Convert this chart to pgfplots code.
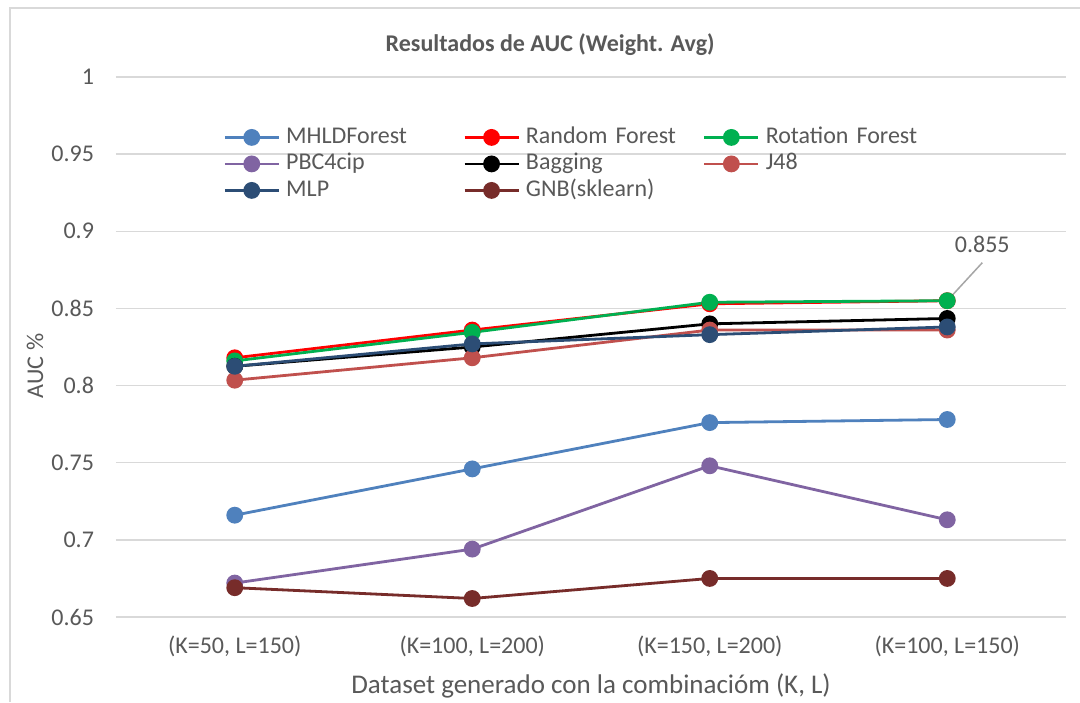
\documentclass[border=0pt]{standalone}
\usepackage{fontspec}
\setmainfont{Carlito}
\usepackage{pgfplots}
\pgfplotsset{compat=1.18}
\definecolor{gridgray}{HTML}{D9D9D9}
\definecolor{textgray}{HTML}{595959}
\definecolor{cMHLD}{HTML}{4F81BD}
\definecolor{cRF}{HTML}{FF0000}
\definecolor{cRot}{HTML}{00B050}
\definecolor{cPBC}{HTML}{8064A2}
\definecolor{cBag}{HTML}{000000}
\definecolor{cJ48}{HTML}{C0504D}
\definecolor{cMLP}{HTML}{2C4D75}
\definecolor{cGNB}{HTML}{772C2A}
\begin{document}
\begin{tikzpicture}
\useasboundingbox (-58pt,-42.5pt) rectangle (482pt,308.5pt);
\fill[white] (-58pt,-42.5pt) rectangle (482pt,308.5pt);
\draw[gridgray, line width=0.75pt] (-53pt,-42.5pt) -- (-53pt,304.5pt) -- (482pt,304.5pt);
\begin{axis}[
  at={(0,0)}, anchor=south west, scale only axis,
  width=475pt, height=270pt,
  xmin=-0.5, xmax=3.5, ymin=0.65, ymax=1,
  xtick={0,1,2,3},
  xticklabels={{(K=50, L=150)},{(K=100, L=200)},{(K=150, L=200)},{(K=100, L=150)}},
  ytick={0.65,0.7,0.75,0.8,0.85,0.9,0.95,1},
  yticklabels={0.65,0.7,0.75,0.8,0.85,0.9,0.95,1},
  ymajorgrids, grid style={gridgray, line width=0.75pt},
  axis line style={draw=none},
  major tick length=0pt,
  tick label style={text=textgray, font=\fontsize{12}{14}\selectfont},
  yticklabel style={xshift=-7.5pt},
  xticklabel style={yshift=-6pt},
  xlabel={Dataset generado con la combinacióm (K, L)},
  xlabel style={at={(0.5,0)}, anchor=center, yshift=-34.5pt, text=textgray, font=\fontsize{13.5}{16}\selectfont},
  ylabel={AUC \%},
  ylabel style={at={(axis description cs:-0.0853,0.465)}, anchor=center, text=textgray, font=\fontsize{12}{14}\selectfont},
  title={Resultados de AUC (Weight. Avg)},
  title style={at={(0.457,1)}, anchor=center, yshift=10pt, text=textgray, font=\bfseries\fontsize{12}{14}\selectfont},
  every axis plot/.append style={line width=1.4pt, mark=*, mark size=3.5pt, mark options={solid}},
  legend columns=3,
  legend image code/.code={\draw[#1] (0pt,0pt) -- (27pt,0pt); \draw[#1, mark repeat=1] plot coordinates {(13.5pt,0pt)};},
  legend style={at={(0.1126,0.9134)}, anchor=north west, draw=none, fill=none, inner sep=0pt,
    font=\fontsize{12}{14}\selectfont, text=textgray,
    /tikz/column sep=0pt,
    nodes={text width=85.5pt, align=left, inner xsep=3pt, inner ysep=0pt, text height=9.5pt, text depth=3.75pt}},
]
\addplot[color=cMHLD] coordinates {(0,0.716) (1,0.746) (2,0.776) (3,0.778)};
\addlegendentry{MHLDForest}
\addplot[color=cRF] coordinates {(0,0.818) (1,0.836) (2,0.853) (3,0.855)};
\addlegendentry{Random Forest}
\addplot[color=cRot] coordinates {(0,0.816) (1,0.8345) (2,0.854) (3,0.855)};
\addlegendentry{Rotation Forest}
\addplot[color=cPBC] coordinates {(0,0.672) (1,0.694) (2,0.748) (3,0.713)};
\addlegendentry{PBC4cip}
\addplot[color=cBag] coordinates {(0,0.8125) (1,0.825) (2,0.840) (3,0.8435)};
\addlegendentry{Bagging}
\addplot[color=cJ48] coordinates {(0,0.8035) (1,0.818) (2,0.836) (3,0.836)};
\addlegendentry{J48}
\addplot[color=cMLP] coordinates {(0,0.8125) (1,0.827) (2,0.833) (3,0.838)};
\addlegendentry{MLP}
\addplot[color=cGNB] coordinates {(0,0.669) (1,0.662) (2,0.675) (3,0.675)};
\addlegendentry{GNB(sklearn)}
\draw[gray!70, line width=0.75pt] (axis cs:3,0.855) -- ++(17.5pt,19pt);
\node[text=textgray, font=\fontsize{12}{14}\selectfont] at (axis cs:3,0.855) [xshift=17.5pt, yshift=28pt] {0.855};
\end{axis}
\end{tikzpicture}
\end{document}
